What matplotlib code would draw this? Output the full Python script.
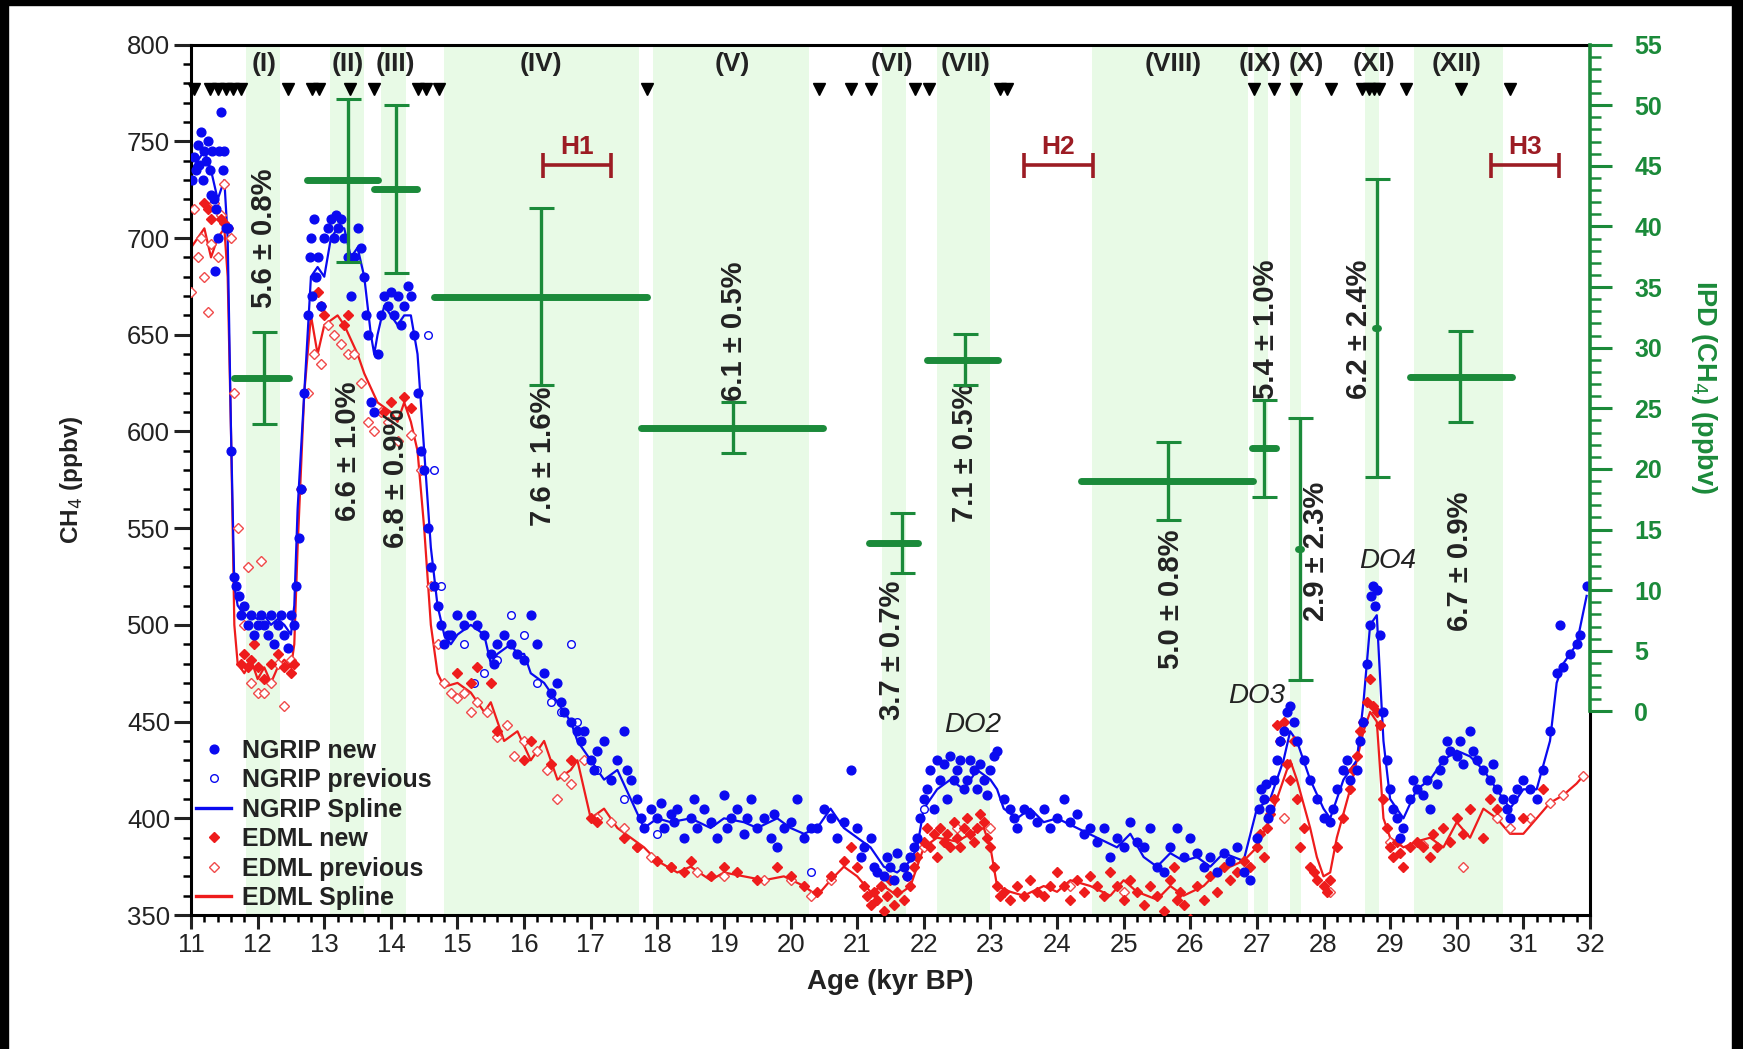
import numpy as np
import matplotlib
matplotlib.use("Agg")
import matplotlib.pyplot as plt
from matplotlib.lines import Line2D
from matplotlib.patches import Rectangle

plt.rcParams['font.family'] = ['Liberation Sans', 'DejaVu Sans']

BLUE = '#0a0af0'
RED = '#ee1c1c'
GREEN = '#1b8a3a'
DARKRED = '#9c1c24'
BAND = '#e8fae6'
INK = '#222222'

# ---------------- data ----------------
# NGRIP new (age kyr BP, CH4 ppbv)
ngrip_new = [
    (11.02, 730), (11.05, 742), (11.08, 735), (11.10, 748), (11.12, 738), (11.15, 755), (11.18, 730),
    (11.20, 745), (11.22, 740), (11.25, 750), (11.28, 735), (11.30, 722), (11.32, 745), (11.35, 720),
    (11.36, 683), (11.38, 715), (11.40, 700), (11.42, 745), (11.45, 765), (11.48, 735), (11.50, 745),
    (11.52, 705), (11.55, 705), (11.60, 590), (11.65, 525), (11.68, 520), (11.72, 515), (11.75, 505),
    (11.80, 510), (11.85, 500), (11.90, 505), (11.95, 495), (12.00, 500), (12.05, 505), (12.10, 500),
    (12.15, 495), (12.20, 505), (12.25, 490), (12.30, 500), (12.35, 505), (12.40, 495), (12.45, 488),
    (12.50, 505), (12.55, 500), (12.58, 520), (12.62, 545), (12.65, 570), (12.70, 620), (12.75, 660),
    (12.78, 690), (12.80, 700), (12.82, 670), (12.85, 710), (12.88, 680), (12.90, 690), (12.95, 665),
    (13.00, 700), (13.05, 705), (13.10, 710), (13.15, 700), (13.18, 712), (13.20, 705), (13.25, 710),
    (13.30, 700), (13.35, 690), (13.40, 670), (13.45, 690), (13.50, 705), (13.55, 695), (13.60, 680),
    (13.62, 660), (13.65, 650), (13.70, 615), (13.75, 610), (13.80, 640), (13.85, 660), (13.90, 670),
    (13.95, 665), (14.00, 672), (14.05, 660), (14.10, 670), (14.15, 655), (14.20, 665), (14.25, 675),
    (14.30, 670), (14.35, 650), (14.40, 620), (14.45, 590), (14.50, 580), (14.55, 550), (14.60, 530),
    (14.65, 520), (14.70, 510), (14.75, 500), (14.80, 490), (14.85, 495), (14.90, 495), (15.00, 505),
    (15.10, 500), (15.20, 505), (15.30, 500), (15.40, 495), (15.50, 485), (15.55, 480), (15.60, 490),
    (15.70, 495), (15.80, 490), (15.90, 485), (16.00, 482), (16.10, 505), (16.20, 490), (16.30, 475),
    (16.40, 465), (16.50, 470), (16.55, 460), (16.60, 455), (16.70, 450), (16.80, 445), (16.85, 440),
    (16.90, 445), (17.00, 430), (17.05, 425), (17.10, 435), (17.20, 440), (17.30, 420), (17.40, 430),
    (17.50, 445), (17.55, 425), (17.60, 420), (17.70, 410), (17.75, 400), (17.80, 395), (17.90, 405),
    (18.00, 400), (18.05, 408), (18.10, 395), (18.20, 402), (18.25, 398), (18.30, 405), (18.40, 390),
    (18.50, 400), (18.55, 410), (18.60, 395), (18.70, 405), (18.80, 398), (18.90, 390), (19.00, 412),
    (19.05, 395), (19.10, 400), (19.20, 405), (19.30, 392), (19.35, 400), (19.40, 410), (19.50, 395),
    (19.60, 400), (19.70, 390), (19.75, 402), (19.80, 385), (19.90, 395), (20.00, 398), (20.10, 410),
    (20.20, 390), (20.30, 395), (20.40, 395), (20.50, 405), (20.60, 400), (20.70, 390), (20.80, 398),
    (20.90, 425), (21.00, 395), (21.05, 380), (21.10, 385), (21.20, 390), (21.25, 375), (21.30, 372),
    (21.40, 370), (21.45, 380), (21.50, 375), (21.55, 368), (21.60, 382), (21.70, 375), (21.75, 370),
    (21.80, 380), (21.85, 385), (21.90, 390), (21.95, 400), (22.00, 410), (22.05, 415), (22.10, 425),
    (22.15, 405), (22.20, 430), (22.25, 420), (22.30, 428), (22.35, 410), (22.40, 432), (22.45, 420),
    (22.50, 425), (22.55, 430), (22.60, 415), (22.65, 420), (22.70, 430), (22.75, 425), (22.80, 415),
    (22.85, 428), (22.90, 420), (22.95, 412), (23.00, 425), (23.05, 432), (23.10, 435), (23.20, 410),
    (23.30, 405), (23.35, 400), (23.40, 395), (23.50, 405), (23.60, 402), (23.70, 398), (23.80, 405),
    (23.90, 395), (24.00, 400), (24.10, 410), (24.20, 398), (24.30, 402), (24.40, 392), (24.50, 395),
    (24.60, 388), (24.70, 395), (24.80, 380), (24.90, 390), (25.00, 385), (25.10, 398), (25.20, 388),
    (25.30, 385), (25.40, 395), (25.50, 375), (25.60, 372), (25.70, 385), (25.80, 395), (25.90, 380),
    (26.00, 390), (26.10, 382), (26.20, 375), (26.30, 380), (26.40, 372), (26.50, 382), (26.60, 378),
    (26.70, 385), (26.80, 372), (26.90, 368), (27.00, 390), (27.03, 405), (27.06, 415), (27.10, 410),
    (27.13, 418), (27.16, 400), (27.20, 405), (27.25, 420), (27.30, 430), (27.35, 440), (27.40, 445),
    (27.45, 455), (27.50, 458), (27.55, 450), (27.60, 440), (27.70, 430), (27.80, 420), (27.90, 410),
    (28.00, 400), (28.10, 398), (28.15, 405), (28.20, 415), (28.30, 425), (28.35, 430), (28.40, 420),
    (28.50, 425), (28.55, 440), (28.60, 450), (28.65, 480), (28.70, 500), (28.72, 515), (28.75, 520),
    (28.78, 510), (28.80, 518), (28.85, 495), (28.90, 455), (28.95, 430), (29.00, 415), (29.05, 405),
    (29.10, 400), (29.15, 390), (29.20, 395), (29.30, 410), (29.35, 420), (29.40, 415), (29.50, 412),
    (29.55, 420), (29.60, 405), (29.70, 418), (29.75, 425), (29.80, 430), (29.85, 440), (29.90, 435),
    (30.00, 432), (30.05, 440), (30.10, 428), (30.20, 445), (30.25, 435), (30.30, 430), (30.40, 425),
    (30.50, 420), (30.55, 428), (30.60, 415), (30.70, 410), (30.75, 405), (30.80, 400), (30.85, 410),
    (30.90, 415), (31.00, 420), (31.10, 415), (31.20, 410), (31.30, 425), (31.40, 445), (31.50, 475),
    (31.55, 500), (31.60, 478), (31.70, 485), (31.80, 490), (31.85, 495), (31.95, 520),
]

# NGRIP previous
ngrip_prev = [
    (14.55, 650), (14.65, 580), (14.75, 520), (15.10, 490), (15.25, 470), (15.40, 475), (15.60, 482),
    (15.80, 505), (15.90, 485), (16.00, 495), (16.20, 470), (16.40, 460), (16.55, 455), (16.70, 490),
    (16.80, 450), (17.00, 430), (17.10, 425), (17.30, 420), (17.50, 410), (17.80, 395), (18.00, 392),
    (20.30, 372), (22.00, 405),
]

# NGRIP spline
ngrip_spl_age = [11.0, 11.1, 11.2, 11.3, 11.4, 11.5, 11.55, 11.6, 11.65, 11.7, 11.8, 11.9, 12.0, 12.1,
                 12.2, 12.3, 12.4, 12.5, 12.55, 12.6, 12.7, 12.8, 12.9, 13.0, 13.1, 13.2, 13.3, 13.4,
                 13.5, 13.6, 13.7, 13.75, 13.8, 13.9, 14.0, 14.1, 14.2, 14.3, 14.4, 14.5, 14.6, 14.7,
                 14.8, 14.9, 15.0, 15.2, 15.4, 15.5, 15.6, 15.8, 15.9, 16.0, 16.1, 16.3, 16.5, 16.7,
                 16.8, 17.0, 17.2, 17.4, 17.6, 17.8, 18.0, 18.2, 18.5, 18.8, 19.0, 19.3, 19.5, 19.8,
                 20.0, 20.2, 20.4, 20.6, 20.8, 21.0, 21.2, 21.4, 21.6, 21.8, 21.9, 22.0, 22.2, 22.4,
                 22.6, 22.8, 23.0, 23.1, 23.2, 23.4, 23.6, 23.8, 24.0, 24.3, 24.6, 24.9, 25.1, 25.3,
                 25.5, 25.7, 25.9, 26.1, 26.3, 26.5, 26.8, 27.0, 27.2, 27.4, 27.5, 27.6, 27.8, 28.0,
                 28.1, 28.3, 28.5, 28.6, 28.7, 28.8, 28.9, 29.0, 29.2, 29.4, 29.6, 29.8, 30.0, 30.2,
                 30.4, 30.6, 30.8, 31.0, 31.2, 31.4, 31.5, 31.6, 31.8, 31.95]
ngrip_spl_ch4 = [735, 740, 745, 735, 720, 730, 700, 600, 520, 510, 505, 505, 503, 505,
                 500, 503, 500, 495, 510, 560, 620, 680, 685, 680, 700, 705, 705, 690,
                 695, 680, 650, 640, 650, 665, 660, 655, 660, 660, 640, 590, 540, 510,
                 495, 490, 495, 500, 495, 480, 485, 490, 485, 485, 475, 470, 460, 450,
                 440, 430, 420, 425, 410, 395, 400, 398, 400, 395, 400, 398, 395, 400,
                 395, 392, 395, 405, 395, 390, 385, 375, 372, 378, 385, 405, 415, 420,
                 415, 425, 420, 415, 405, 400, 405, 398, 400, 395, 390, 385, 392, 380,
                 375, 382, 378, 380, 375, 382, 378, 405, 410, 430, 445, 440, 420, 405,
                 400, 420, 430, 460, 500, 505, 440, 410, 400, 415, 420, 430, 435, 432,
                 425, 415, 405, 415, 415, 440, 470, 480, 490, 515]

# EDML new
edml_new = [
    (11.20, 718), (11.25, 715), (11.30, 710), (11.45, 710), (11.50, 708), (11.55, 705),
    (11.75, 480), (11.80, 485), (11.85, 478), (11.90, 482), (11.95, 490), (12.00, 478), (12.10, 472),
    (12.20, 480), (12.30, 485), (12.40, 478), (12.50, 475), (12.55, 480), (12.90, 672), (12.95, 665),
    (13.00, 660), (13.30, 655), (13.35, 660), (13.90, 610), (14.00, 615), (14.20, 618), (14.30, 612),
    (15.00, 475), (15.20, 470), (15.30, 478), (15.50, 470), (15.60, 445), (16.00, 430), (16.10, 440),
    (16.40, 428), (16.70, 430), (17.00, 400), (17.10, 398), (17.50, 390), (17.70, 385), (18.00, 378),
    (18.20, 375), (18.40, 372), (18.50, 378), (18.80, 370), (19.00, 375), (19.20, 372), (19.50, 368),
    (19.80, 375), (20.00, 370), (20.20, 365), (20.40, 362), (20.60, 370), (20.80, 378), (20.90, 385),
    (21.00, 375), (21.10, 365), (21.15, 360), (21.20, 355), (21.25, 362), (21.30, 358), (21.35, 365),
    (21.40, 352), (21.45, 360), (21.50, 368), (21.55, 355), (21.60, 362), (21.70, 358), (21.75, 370),
    (21.80, 365), (21.85, 375), (21.90, 380), (22.00, 388), (22.05, 395), (22.10, 385), (22.15, 392),
    (22.20, 380), (22.25, 395), (22.30, 388), (22.35, 392), (22.40, 385), (22.45, 398), (22.50, 390),
    (22.55, 385), (22.60, 395), (22.65, 400), (22.70, 392), (22.75, 388), (22.80, 395), (22.85, 402),
    (22.90, 398), (22.95, 390), (23.00, 385), (23.05, 375), (23.10, 365), (23.15, 360), (23.20, 362),
    (23.30, 358), (23.40, 365), (23.50, 360), (23.60, 368), (23.70, 362), (23.80, 360), (23.90, 365),
    (24.00, 372), (24.10, 365), (24.20, 358), (24.30, 368), (24.40, 362), (24.50, 370), (24.60, 365),
    (24.70, 360), (24.80, 372), (24.90, 365), (25.00, 358), (25.10, 368), (25.20, 362), (25.30, 355),
    (25.40, 365), (25.50, 360), (25.60, 352), (25.70, 368), (25.75, 375), (25.80, 358), (25.85, 362),
    (25.90, 355), (26.00, 348), (26.10, 365), (26.20, 358), (26.30, 370), (26.40, 362), (26.50, 375),
    (26.60, 368), (26.70, 372), (26.80, 378), (26.90, 375), (27.00, 385), (27.05, 392), (27.10, 380),
    (27.15, 395), (27.20, 402), (27.25, 410), (27.30, 448), (27.35, 440), (27.40, 450), (27.45, 428),
    (27.50, 420), (27.55, 440), (27.60, 410), (27.65, 385), (27.70, 395), (27.80, 375), (27.85, 372),
    (27.90, 368), (28.00, 365), (28.05, 362), (28.10, 368), (28.20, 385), (28.30, 400), (28.40, 415),
    (28.45, 425), (28.50, 432), (28.55, 445), (28.60, 450), (28.65, 460), (28.70, 472), (28.75, 458),
    (28.80, 455), (28.85, 448), (28.90, 410), (28.95, 395), (29.00, 385), (29.05, 380), (29.10, 388),
    (29.15, 382), (29.20, 375), (29.30, 385), (29.40, 388), (29.50, 385), (29.60, 380), (29.65, 392),
    (29.70, 385), (29.80, 395), (29.90, 388), (30.00, 400), (30.10, 392), (30.20, 405), (30.40, 390),
    (30.50, 410), (30.60, 405), (31.00, 400), (31.30, 415),
]

# EDML previous
edml_prev = [
    (11.00, 672), (11.05, 715), (11.10, 690), (11.15, 700), (11.20, 680), (11.25, 662), (11.30, 697),
    (11.35, 718), (11.40, 690), (11.45, 712), (11.50, 728), (11.60, 700), (11.65, 620), (11.70, 550),
    (11.80, 500), (11.85, 530), (11.90, 470), (12.00, 465), (12.05, 533), (12.10, 465), (12.20, 470),
    (12.30, 480), (12.40, 458), (12.50, 482), (12.65, 570), (12.75, 620), (12.85, 640), (12.95, 635),
    (13.05, 655), (13.15, 650), (13.25, 645), (13.35, 640), (13.45, 640), (13.55, 625), (13.65, 605),
    (13.75, 600), (13.85, 610), (13.95, 605), (14.10, 595), (14.30, 598), (14.45, 580), (14.60, 520),
    (14.70, 490), (14.80, 470), (14.90, 465), (15.00, 462), (15.10, 465), (15.20, 455), (15.30, 460),
    (15.45, 455), (15.60, 442), (15.75, 448), (15.85, 432), (16.00, 440), (16.20, 435), (16.35, 425),
    (16.50, 410), (16.60, 422), (16.70, 418), (16.90, 430), (17.10, 400), (17.30, 398), (17.50, 395),
    (17.70, 385), (17.90, 380), (18.20, 375), (18.60, 372), (19.00, 370), (19.60, 368), (20.00, 368),
    (20.30, 360), (20.60, 368), (22.00, 385), (22.50, 395), (23.00, 395), (24.20, 365), (25.00, 362),
    (27.40, 400), (28.10, 362), (29.00, 388), (29.50, 386), (30.10, 375), (30.60, 400), (30.80, 395),
    (31.10, 400), (31.40, 408), (31.60, 412), (31.90, 422),
]

# EDML spline
edml_spl_age = [11.0, 11.1, 11.2, 11.3, 11.4, 11.5, 11.55, 11.6, 11.65, 11.7, 11.8, 11.9, 12.0, 12.1,
                12.2, 12.3, 12.4, 12.5, 12.55, 12.6, 12.7, 12.8, 12.85, 12.9, 13.0, 13.2, 13.3, 13.5,
                13.6, 13.8, 14.0, 14.1, 14.2, 14.3, 14.4, 14.5, 14.6, 14.7, 14.8, 15.0, 15.2, 15.4,
                15.5, 15.7, 15.9, 16.1, 16.3, 16.5, 16.7, 16.8, 17.0, 17.2, 17.4, 17.6, 17.8, 18.0,
                18.3, 18.5, 18.8, 19.0, 19.3, 19.6, 19.9, 20.2, 20.4, 20.6, 20.8, 21.0, 21.2, 21.4,
                21.6, 21.8, 22.0, 22.2, 22.5, 22.7, 22.9, 23.0, 23.1, 23.3, 23.5, 23.8, 24.0, 24.2,
                24.5, 24.8, 25.0, 25.2, 25.5, 25.7, 25.9, 26.2, 26.4, 26.6, 26.8, 27.0, 27.2, 27.4,
                27.5, 27.6, 27.8, 27.9, 28.0, 28.1, 28.2, 28.4, 28.6, 28.7, 28.8, 28.9, 29.0, 29.2,
                29.4, 29.6, 29.8, 30.0, 30.2, 30.4, 30.6, 30.8, 31.0, 31.2, 31.4, 31.6, 31.8, 31.9]
edml_spl_ch4 = [695, 700, 705, 690, 700, 705, 680, 600, 500, 480, 475, 482, 472, 478,
                470, 478, 482, 478, 490, 540, 620, 660, 650, 640, 655, 660, 655, 640,
                630, 615, 610, 605, 615, 605, 590, 550, 500, 475, 468, 470, 465, 455,
                460, 440, 445, 430, 440, 420, 425, 430, 400, 405, 395, 390, 385, 378,
                372, 375, 368, 372, 370, 368, 370, 365, 360, 368, 375, 370, 362, 365,
                360, 365, 385, 390, 388, 392, 395, 385, 365, 362, 360, 365, 362, 368,
                365, 360, 368, 362, 358, 365, 360, 365, 372, 375, 378, 385, 400, 420,
                430, 420, 395, 380, 370, 372, 390, 415, 445, 455, 450, 400, 390, 385,
                388, 390, 385, 398, 390, 405, 400, 392, 392, 400, 408, 412, 418, 422]

# shaded intervals (I)..(XII)
band_start = [11.83, 13.08, 13.85, 14.80, 17.93, 21.37, 22.20, 24.52, 26.96, 27.49, 28.63, 29.36]
band_end = [12.34, 13.60, 14.22, 17.73, 20.28, 21.73, 22.99, 26.86, 27.16, 27.66, 28.83, 30.70]
band_names = ['(I)', '(II)', '(III)', '(IV)', '(V)', '(VI)', '(VII)', '(VIII)', '(IX)', '(X)', '(XI)', '(XII)']
band_label_x = [12.09, 13.35, 14.07, 16.26, 19.13, 21.52, 22.62, 25.74, 27.04, 27.74, 28.76, 30.0]

# tie points (triangles)
tie_ages = [11.05, 11.28, 11.40, 11.52, 11.63, 11.75, 12.46, 12.82, 12.92, 13.38, 13.74, 14.40, 14.52,
            14.72, 17.85, 20.43, 20.90, 21.20, 21.87, 22.08, 23.15, 23.25, 26.96, 27.26, 27.58, 28.12,
            28.58, 28.68, 28.76, 28.84, 29.24, 30.07, 30.80]

# IPD estimates (ppbv) per interval
ipd_center = [12.09, 13.35, 14.07, 16.26, 19.13, 21.67, 22.62, 25.66, 27.11, 27.64, 28.80, 30.05]
ipd_from = [11.65, 12.74, 13.75, 14.64, 17.76, 21.17, 22.05, 24.36, 26.93, 27.62, 28.78, 29.30]
ipd_to = [12.47, 13.80, 14.39, 17.84, 20.48, 21.92, 23.12, 26.94, 27.28, 27.66, 28.82, 30.83]
ipd_value = [27.5, 43.8, 43.1, 34.2, 23.4, 13.9, 29.0, 19.0, 21.7, 13.4, 31.6, 27.6]
ipd_err = [3.8, 6.7, 6.9, 7.3, 2.1, 2.5, 2.1, 3.2, 4.0, 10.8, 12.3, 3.75]

# relative IPD labels
pct_text = ['5.6 ± 0.8%', '6.6 ± 1.0%', '6.8 ± 0.9%', '7.6 ± 1.6%', '6.1 ± 0.5%', '3.7 ± 0.7%',
            '7.1 ± 0.5%', '5.0 ± 0.8%', '5.4 ± 1.0%', '2.9 ± 2.3%', '6.2 ± 2.4%', '6.7 ± 0.9%']
pct_x = [12.09, 13.35, 14.07, 16.29, 19.15, 21.52, 22.62, 25.71, 27.13, 27.88, 28.53, 30.05]
pct_y = [700, 590, 576, 587, 652, 487, 589, 513, 653, 538, 653, 533]

# Heinrich events
h_names = ['H1', 'H2', 'H3']
h_start = [16.29, 23.50, 30.52]
h_end = [17.31, 24.54, 31.53]

# DO events
do_names = ['DO2', 'DO3', 'DO4']
do_x = [22.74, 26.99, 28.96]
do_y = [448, 463, 533]

# ---------------- figure ----------------
fig = plt.figure(figsize=(17.43, 10.49), dpi=100)
ax = fig.add_axes([0.1096, 0.1277, 0.8026, 0.8298])
ax.set_xlim(11, 32)
ax.set_ylim(350, 800)

for a, b in zip(band_start, band_end):
    ax.axvspan(a, b, color=BAND, lw=0, zorder=0)

nn = np.array(ngrip_new).T
npv = np.array(ngrip_prev).T
en = np.array(edml_new).T
ep = np.array(edml_prev).T

ax.plot(edml_spl_age, edml_spl_ch4, color=RED, lw=1.6, zorder=2)
ax.plot(ngrip_spl_age, ngrip_spl_ch4, color=BLUE, lw=1.6, zorder=2)
ax.plot(ep[0], ep[1], 'D', ms=4.8, mfc='white', mec='#f04a4a', mew=1.0, ls='none', zorder=3)
ax.plot(npv[0], npv[1], 'o', ms=5.5, mfc='white', mec=BLUE, mew=1.0, ls='none', zorder=3)
ax.plot(en[0], en[1], 'D', ms=5, color=RED, ls='none', zorder=4)
ax.plot(nn[0], nn[1], 'o', ms=6.3, color=BLUE, ls='none', zorder=4)

# tie points and interval names
ax.plot(tie_ages, np.full(len(tie_ages), 777.0), 'v', color='black', ms=8, ls='none', zorder=5,
        clip_on=False)
for name, x in zip(band_names, band_label_x):
    ax.text(x, 790, name, ha='center', va='center', fontsize=19, fontweight='bold', color=INK)

# Heinrich brackets
for name, a, b in zip(h_names, h_start, h_end):
    ax.errorbar((a + b) / 2, 738, xerr=(b - a) / 2, fmt='none', ecolor=DARKRED, elinewidth=2.6,
                capsize=9, capthick=2.6, zorder=5)
    ax.text((a + b) / 2, 747, name, ha='center', va='center', fontsize=19, fontweight='bold',
            color=DARKRED)

for name, x, y in zip(do_names, do_x, do_y):
    ax.text(x, y, name, ha='center', va='center', fontsize=20, style='italic', color=INK)

for t, x, y in zip(pct_text, pct_x, pct_y):
    ax.text(x, y, t, rotation=90, ha='center', va='center', fontsize=21, fontweight='bold',
            color=INK, zorder=6)

# axes styling
ax.xaxis.set_major_locator(matplotlib.ticker.MultipleLocator(1))
ax.xaxis.set_minor_locator(matplotlib.ticker.MultipleLocator(0.2))
ax.yaxis.set_major_locator(matplotlib.ticker.MultipleLocator(50))
ax.yaxis.set_minor_locator(matplotlib.ticker.MultipleLocator(10))
ax.tick_params(axis='both', which='major', direction='out', length=10, width=2.2, labelsize=18.5,
               pad=3, colors=INK)
ax.tick_params(axis='both', which='minor', direction='out', length=5, width=1.8)
ax.tick_params(axis='y', which='major', length=12)
ax.tick_params(axis='y', which='minor', length=6)
ax.tick_params(right=False, top=False, which='both')
for s in ax.spines.values():
    s.set_linewidth(2.2)
ch4_at_ipd0 = 350 + (16.8 / 71.8) * 450
ax.spines['right'].set_bounds(350, ch4_at_ipd0)

ax.set_xlabel('Age (kyr BP)', fontsize=20, fontweight='bold', color=INK)
ax.xaxis.set_label_coords(0.5, -0.062)
ax.set_ylabel('CH$_4$ (ppbv)', fontsize=17.5, fontweight='bold', color=INK)
ax.yaxis.set_label_coords(-0.076, 0.5)

# legend
handles = [
    Line2D([], [], marker='o', ms=6.3, color=BLUE, ls='none'),
    Line2D([], [], marker='o', ms=5.5, mfc='white', mec=BLUE, mew=1.0, ls='none'),
    Line2D([], [], color=BLUE, lw=2.4),
    Line2D([], [], marker='D', ms=5, color=RED, ls='none'),
    Line2D([], [], marker='D', ms=4.8, mfc='white', mec='#f04a4a', mew=1.0, ls='none'),
    Line2D([], [], color=RED, lw=2.4),
]
labels = ['NGRIP new', 'NGRIP previous', 'NGRIP Spline', 'EDML new', 'EDML previous', 'EDML Spline']
leg = ax.legend(handles, labels, loc='lower left', bbox_to_anchor=(0.0, 0.0), frameon=False,
                prop={'size': 18, 'weight': 'bold'}, handlelength=1.4, labelspacing=0.22,
                handletextpad=0.45, borderaxespad=0.0, borderpad=0.2)
for t in leg.get_texts():
    t.set_color(INK)

# IPD axis
ax2 = ax.twinx()
ax2.set_ylim(-16.8, 55)
for a, b, x, y, e in zip(ipd_from, ipd_to, ipd_center, ipd_value, ipd_err):
    ax2.hlines(y, a, b, color=GREEN, lw=5, capstyle='round', zorder=5)
    ax2.errorbar(x, y, yerr=e, fmt='none', ecolor=GREEN, elinewidth=2.4, capsize=9, capthick=2.2,
                 zorder=5)
ax2.yaxis.set_major_locator(matplotlib.ticker.FixedLocator(np.arange(0, 56, 5)))
ax2.yaxis.set_minor_locator(matplotlib.ticker.FixedLocator(np.arange(0, 56, 1)))
ax2.tick_params(axis='y', which='major', direction='out', length=16, width=2.2, labelsize=18,
                colors=GREEN, pad=16)
ax2.tick_params(axis='y', which='minor', direction='out', length=8, width=1.8, colors=GREEN)
for lab in ax2.get_yticklabels():
    lab.set_fontweight('bold')
for k in ['left', 'top', 'bottom']:
    ax2.spines[k].set_visible(False)
ax2.spines['right'].set_bounds(0, 55)
ax2.spines['right'].set_color(GREEN)
ax2.spines['right'].set_linewidth(2.6)
ax2.set_ylabel('IPD (CH$_4$) (ppbv)', fontsize=19.5, fontweight='bold', color=GREEN, rotation=270,
               va='bottom')
ax2.yaxis.set_label_coords(1.071, 0.607)

# black frame at the picture's edges
fig.patches.append(Rectangle((0, 1 - 5 / 1049), 1, 5 / 1049, transform=fig.transFigure,
                             color='black', zorder=10))
fig.patches.append(Rectangle((0, 0), 8 / 1743, 1, transform=fig.transFigure, color='black', zorder=10))
fig.patches.append(Rectangle((1 - 11 / 1743, 0), 11 / 1743, 1, transform=fig.transFigure,
                             color='black', zorder=10))

fig.savefig('out.png', dpi=100, facecolor='white')
